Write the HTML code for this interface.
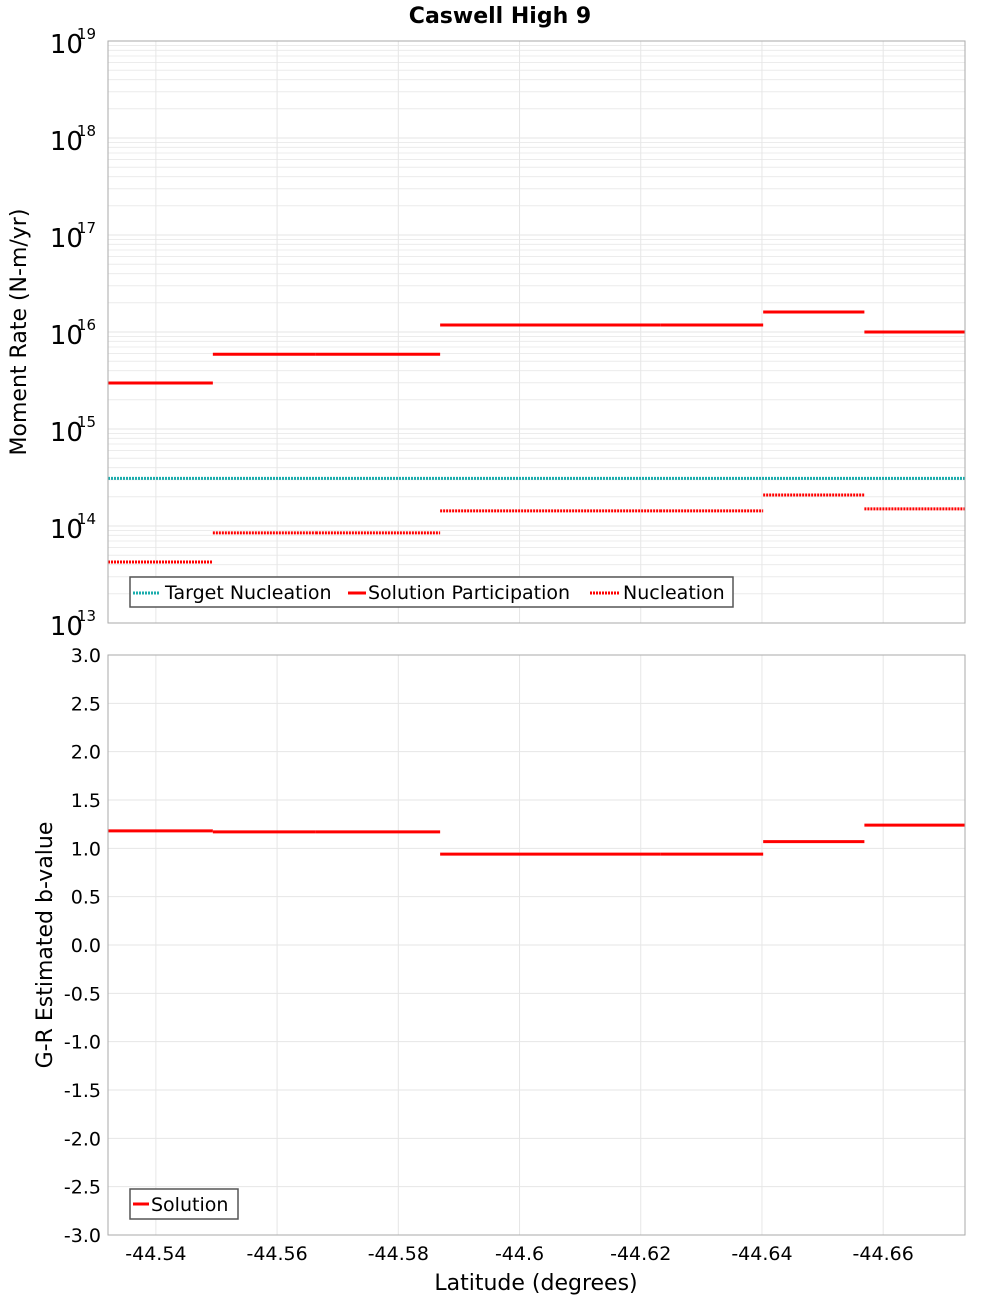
<!DOCTYPE html>
<html><head><meta charset="utf-8"><style>
body{margin:0;background:#fff;}
svg{display:block;font-family:"Liberation Sans","DejaVu Sans",sans-serif;}
</style></head><body>
<svg id="chart" width="1000" height="1300" xmlns="http://www.w3.org/2000/svg">
<rect width="1000" height="1300" fill="#fff"/>
<text x="500" y="23" text-anchor="middle" font-size="22" font-weight="bold" font-family="DejaVu Sans, sans-serif">Caswell High 9</text>
<g id="topPanel"></g><g id="botPanel"></g>
</svg>
<script>
const segEdges=[-44.5321,-44.5494,-44.5664,-44.5869,-44.6232,-44.6402,-44.6569,-44.6735];
const participation=[2.98e15,5.9e15,5.9e15,1.18e16,1.18e16,1.61e16,1.0e16];
const nucleation=[4.25e13,8.5e13,8.5e13,1.43e14,1.43e14,2.09e14,1.5e14];
const targetNucleation=3.1e14;
const bValues=[1.18,1.17,1.17,0.94,0.94,1.07,1.24];
const xTicks=[-44.54,-44.56,-44.58,-44.6,-44.62,-44.64,-44.66];
const xTickLabels=["-44.54","-44.56","-44.58","-44.6","-44.62","-44.64","-44.66"];
const logTicks=[13,14,15,16,17,18,19];
const bTicks=[-3,-2.5,-2,-1.5,-1,-0.5,0,0.5,1,1.5,2,2.5,3];

const NS="http://www.w3.org/2000/svg";
const L=108,R=965,T1=41,B1=623,T2=655,B2=1235;
const xMin=-44.5321,xMax=-44.6735;
function X(v){return L+(v-xMin)/(xMax-xMin)*(R-L);}
function Y1(v){return T1+(19-Math.log10(v))/6*(B1-T1);}
function Y2(v){return T2+(3-v)/6*(B2-T2);}
function mk(tag,at,parent,name,txt){const e=document.createElementNS(NS,tag);for(const k in at)e.setAttribute(k,at[k]);


if(txt!==undefined)e.textContent=txt;parent.appendChild(e);return e;}
const topG=document.getElementById('topPanel'),botG=document.getElementById('botPanel');
for(let d=13;d<19;d++)for(let m=2;m<10;m++){const y=Y1(m*Math.pow(10,d));mk('line',{x1:L,x2:R,y1:y,y2:y,stroke:'#ececec','stroke-width':1},topG,'minor-gridline');}
logTicks.forEach(t=>{const y=Y1(Math.pow(10,t));mk('line',{x1:L,x2:R,y1:y,y2:y,stroke:'#e6e6e6'},topG,'major-gridline');
const tx=mk('text',{x:96,y:y+12,'text-anchor':'end','font-size':26,'font-family':'DejaVu Sans, sans-serif'},topG,'y-tick-label','10');
mk('tspan',{dy:-14,'font-size':15,dx:-6},tx,'y-tick-exponent',String(t));});
bTicks.forEach(t=>{const y=Y2(t);mk('line',{x1:L,x2:R,y1:y,y2:y,stroke:'#e6e6e6'},botG,'gridline');
mk('text',{x:101,y:y+7,'text-anchor':'end','font-size':19,'font-family':'DejaVu Sans, sans-serif'},botG,'y-tick-label',t.toFixed(1));});
xTicks.forEach((t,i)=>{const x=X(t);mk('line',{x1:x,x2:x,y1:T1,y2:B1,stroke:'#e6e6e6'},topG,'x-gridline');
mk('line',{x1:x,x2:x,y1:T2,y2:B2,stroke:'#e6e6e6'},botG,'x-gridline');
mk('text',{x:x,y:1260,'text-anchor':'middle','font-size':19,'font-family':'DejaVu Sans, sans-serif'},botG,'x-tick-label',xTickLabels[i]);});
mk('line',{x1:L,x2:R,y1:Y1(targetNucleation),y2:Y1(targetNucleation),stroke:'#1aacac','stroke-width':3,'stroke-dasharray':'2,1'},topG,'target-nucleation-line');
for(let i=0;i<participation.length;i++){
 const xa=X(segEdges[i]),xb=X(segEdges[i+1]);
 mk('line',{x1:xa,x2:xb,y1:Y1(participation[i]),y2:Y1(participation[i]),stroke:'#f00','stroke-width':3},topG,'participation-segment');
 mk('line',{x1:xa,x2:xb,y1:Y1(nucleation[i]),y2:Y1(nucleation[i]),stroke:'#f00','stroke-width':3,'stroke-dasharray':'2,1'},topG,'nucleation-segment');
 mk('line',{x1:xa,x2:xb,y1:Y2(bValues[i]),y2:Y2(bValues[i]),stroke:'#f00','stroke-width':3},botG,'b-value-segment');
}
mk('rect',{x:L,y:T1,width:R-L,height:B1-T1,fill:'none',stroke:'#aaa'},topG,'top-plot-frame');
mk('rect',{x:L,y:T2,width:R-L,height:B2-T2,fill:'none',stroke:'#aaa'},botG,'bottom-plot-frame');
const lg=mk('g',{},topG,'top-legend');
mk('rect',{x:130,y:577,width:603,height:30,fill:'#fff',stroke:'#555','stroke-width':1.5},lg,'legend-box');
mk('line',{x1:133,x2:160,y1:593,y2:593,stroke:'#1aacac','stroke-width':3,'stroke-dasharray':'2,1'},lg,'legend-target-swatch');
mk('text',{x:165,y:599,'font-size':19,'font-family':'DejaVu Sans, sans-serif'},lg,'legend-target-label','Target Nucleation');
mk('line',{x1:348,x2:366,y1:593,y2:593,stroke:'#f00','stroke-width':3},lg,'legend-participation-swatch');
mk('text',{x:368,y:599,'font-size':19,'font-family':'DejaVu Sans, sans-serif'},lg,'legend-participation-label','Solution Participation');
mk('line',{x1:590,x2:620,y1:593,y2:593,stroke:'#f00','stroke-width':3,'stroke-dasharray':'2,1'},lg,'legend-nucleation-swatch');
mk('text',{x:623,y:599,'font-size':19,'font-family':'DejaVu Sans, sans-serif'},lg,'legend-nucleation-label','Nucleation');
const lg2=mk('g',{},botG,'bottom-legend');
mk('rect',{x:130,y:1189,width:108,height:30,fill:'#fff',stroke:'#555','stroke-width':1.5},lg2,'legend-box');
mk('line',{x1:133,x2:149,y1:1204,y2:1204,stroke:'#f00','stroke-width':3},lg2,'legend-solution-swatch');
mk('text',{x:151,y:1211,'font-size':19,'font-family':'DejaVu Sans, sans-serif'},lg2,'legend-solution-label','Solution');
mk('text',{x:0,y:0,transform:'translate(26,332) rotate(-90)','text-anchor':'middle','font-size':22,'font-family':'DejaVu Sans, sans-serif'},topG,'y-axis-title-top','Moment Rate (N-m/yr)');
mk('text',{x:0,y:0,transform:'translate(52,945) rotate(-90)','text-anchor':'middle','font-size':22,'font-family':'DejaVu Sans, sans-serif'},botG,'y-axis-title-bottom','G-R Estimated b-value');
mk('text',{x:536,y:1290,'text-anchor':'middle','font-size':22,'font-family':'DejaVu Sans, sans-serif'},botG,'x-axis-title','Latitude (degrees)');
</script>
</body></html>
